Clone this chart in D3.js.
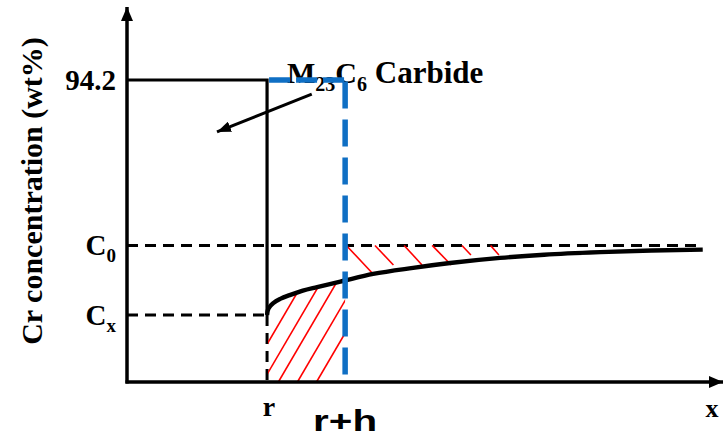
<!DOCTYPE html>
<html>
<head>
<meta charset="utf-8">
<script src="https://cdn.jsdelivr.net/npm/d3@7"></script>
<style>
  html, body { margin: 0; padding: 0; background: #fff; }
  svg { display: block; }
  .serif { font-family: "Liberation Serif", "Times New Roman", serif; font-weight: bold; fill: #000; }
</style>
</head>
<body>
<svg id="chart" width="724" height="438"></svg>
<script>
// Concentration levels (wt%)
const carbideLevel = 94.2;
const C0 = 42.6;
const Cx = 20.9;
// Positions along x
const rPos = 23.5;
const rhPos = 36.6;
const xEnd = 96.6;
const xMax = 100;
const yMax = 117;

// Depleted-zone concentration profile
const profileX = [23.5, 23.6, 24.0, 24.6, 25.8, 27.3, 29.5, 31.9, 36.2, 41.3, 48.0, 54.2, 62.6, 70.0, 79.4, 88.0, 96.6];
const profileY = [20.9, 22.2, 23.6, 24.7, 26.0, 27.1, 28.5, 29.6, 31.5, 33.7, 35.6, 37.1, 38.7, 39.7, 40.5, 41.0, 41.3];

// Hatch lines below the profile (baseline intercepts)
const hatchBelow = [19.8, 22.75, 25.4, 28.6, 31.8];
// Hatch lines between C0 and the profile
const hatchAboveX0 = [36.8, 41.6, 46.5, 51.2, 56.2, 61.0];
const hatchAboveX1 = [41.3, 44.7, 49.5, 54.4, 57.7, 62.4];
const hatchAboveY1 = [33.7, 36.5, 36.5, 36.5, 39.6, 39.6];

// Pointer arrow to the carbide
const pointerFrom = [31.0, 89.8];
const pointerTo = [15.1, 78.0];

const svg = d3.select("#chart");
const x = d3.scaleLinear().domain([0, xMax]).range([127, 723]);
const y = d3.scaleLinear().domain([0, carbideLevel]).range([382, 80]);

const defs = svg.append("defs");
function arrowMarker(id, len, wid) {
  defs.append("marker")
    .attr("id", id)
    .attr("viewBox", `0 0 ${len} ${wid}`)
    .attr("refX", len).attr("refY", wid / 2)
    .attr("markerWidth", len).attr("markerHeight", wid)
    .attr("markerUnits", "userSpaceOnUse")
    .attr("orient", "auto")
    .append("path")
    .attr("d", `M0,0 L${len},${wid / 2} L0,${wid} Z`)
    .attr("fill", "#000");
}
arrowMarker("axisHead", 14, 12);
arrowMarker("pointerHead", 14, 11);

// Clip region: area under the profile between r and r+h
const profile = profileX.map((d, i) => [d, profileY[i]]);
const lineGen = d3.line().x(d => x(d[0])).y(d => y(d[1])).curve(d3.curveMonotoneX);
const areaGen = d3.area().x(d => x(d[0])).y0(y(0)).y1(d => y(d[1])).curve(d3.curveMonotoneX);

defs.append("clipPath").attr("id", "clipBand")
  .append("rect")
  .attr("x", x(rPos) + 1).attr("y", 0)
  .attr("width", x(rhPos) - x(rPos) - 1).attr("height", 438);
const clipUnder = defs.append("clipPath").attr("id", "clipUnder");
clipUnder.append("path").attr("d", areaGen(profile));

// Dashed guide lines
const guides = svg.append("g")
  .attr("stroke", "#000").attr("stroke-width", 3).attr("stroke-dasharray", "11,7").attr("fill", "none");
guides.append("line").attr("x1", x(0)).attr("x2", x(xEnd)).attr("y1", y(C0)).attr("y2", y(C0));
guides.append("line").attr("x1", x(0)).attr("x2", x(rPos)).attr("y1", y(Cx)).attr("y2", y(Cx));
guides.append("line").attr("x1", x(rPos)).attr("x2", x(rPos)).attr("y1", y(Cx)).attr("y2", y(0));

// Red hatching under the profile
const slope = 1.71;
svg.append("g").attr("clip-path", "url(#clipBand)")
  .append("g").attr("clip-path", "url(#clipUnder)")
  .selectAll("line").data(hatchBelow).join("line")
  .attr("x1", d => x(d)).attr("y1", y(0))
  .attr("x2", d => x(d) + (y(0) - y(C0)) / slope).attr("y2", y(C0))
  .attr("stroke", "#ff0000").attr("stroke-width", 1.6);

// Red hatching above the profile
svg.append("g").selectAll("line").data(hatchAboveX0).join("line")
  .attr("x1", d => x(d)).attr("y1", y(C0))
  .attr("x2", (d, i) => x(hatchAboveX1[i])).attr("y2", (d, i) => y(hatchAboveY1[i]))
  .attr("stroke", "#ff0000").attr("stroke-width", 1.6);

// Carbide boundary
svg.append("path")
  .attr("d", d3.line()([[x(0), y(carbideLevel)], [x(rPos), y(carbideLevel)], [x(rPos), y(Cx)]]))
  .attr("fill", "none").attr("stroke", "#000").attr("stroke-width", 3.2);

// Concentration profile
svg.append("path").attr("d", lineGen(profile))
  .attr("fill", "none").attr("stroke", "#000").attr("stroke-width", 4.4).attr("stroke-linecap", "butt");

// Axes with arrowheads
svg.append("line").attr("x1", x(0)).attr("x2", x(0)).attr("y1", y(0) + 1.5).attr("y2", y(yMax))
  .attr("stroke", "#000").attr("stroke-width", 3.5).attr("marker-end", "url(#axisHead)");
svg.append("line").attr("x1", x(0) - 1.5).attr("x2", x(xMax)).attr("y1", y(0)).attr("y2", y(0))
  .attr("stroke", "#000").attr("stroke-width", 3.5).attr("marker-end", "url(#axisHead)");

// Pointer arrow
svg.append("line")
  .attr("x1", x(pointerFrom[0])).attr("y1", y(pointerFrom[1]))
  .attr("x2", x(pointerTo[0])).attr("y2", y(pointerTo[1]))
  .attr("stroke", "#000").attr("stroke-width", 3).attr("marker-end", "url(#pointerHead)");

// Carbide label
const lab = svg.append("text").attr("class", "serif")
  .attr("x", 287).attr("y", 83).attr("font-size", 30);
lab.append("tspan").text("M");
lab.append("tspan").attr("font-size", 20).attr("dy", 8).text("23");
lab.append("tspan").attr("dy", -8).text("C");
lab.append("tspan").attr("font-size", 20).attr("dy", 8).text("6");
lab.append("tspan").attr("dy", -8).attr("font-size", 31).text(" Carbide");

// Depth r+h marker (blue dashed)
const blue = svg.append("g").attr("stroke", "#0f6fc4").attr("stroke-width", 5.5).attr("fill", "none");
blue.append("line").attr("x1", x(rPos) + 2).attr("x2", x(rhPos)).attr("y1", y(carbideLevel)).attr("y2", y(carbideLevel))
  .attr("stroke-dasharray", "21,6");
blue.append("line").attr("x1", x(rhPos)).attr("x2", x(rhPos)).attr("y1", y(carbideLevel) - 2.5).attr("y2", y(0) + 1)
  .attr("stroke-dasharray", "27,11").attr("stroke-dashoffset", -4);

// Y tick labels
const yLabels = [
  { v: carbideLevel, main: "94.2", sub: "" },
  { v: C0, main: "C", sub: "0" },
  { v: Cx, main: "C", sub: "x" }
];
yLabels.forEach(d => {
  const t = svg.append("text").attr("class", "serif").attr("text-anchor", "end")
    .attr("x", 116).attr("y", y(d.v) + 10).attr("font-size", 29);
  t.append("tspan").text(d.main);
  if (d.sub) t.append("tspan").attr("font-size", 19).attr("dy", 7).text(d.sub);
});

// X labels
svg.append("text").attr("class", "serif").attr("text-anchor", "middle")
  .attr("x", x(rPos) + 2).attr("y", 416).attr("font-size", 28).text("r");
svg.append("text").attr("text-anchor", "middle")
  .attr("x", x(rhPos)).attr("y", 431)
  .attr("font-family", "'Liberation Sans', Arial, sans-serif").attr("font-weight", "bold")
  .attr("font-size", 30).attr("textLength", 64).attr("lengthAdjust", "spacingAndGlyphs").text("r+h");
svg.append("text").attr("class", "serif").attr("text-anchor", "middle")
  .attr("x", 712).attr("y", 417).attr("font-size", 26).text("x");

// Y axis title
svg.append("text").attr("class", "serif").attr("text-anchor", "middle")
  .attr("transform", "translate(42,191) rotate(-90)")
  .attr("font-size", 30).text("Cr concentration (wt%)");
</script>
</body>
</html>
